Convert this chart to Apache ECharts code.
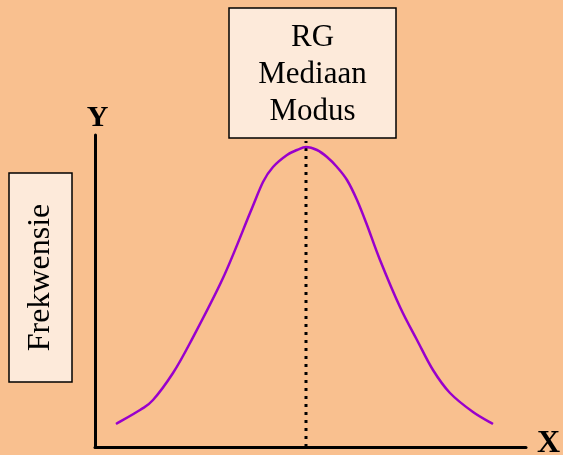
<!DOCTYPE html>
<html><head><meta charset="utf-8">
<script src="https://cdn.jsdelivr.net/npm/echarts@6/dist/echarts.min.js"></script>
<style>html,body{margin:0;padding:0;background:#F9C08F}#c{width:563px;height:455px}</style>
</head><body><div id="c"></div>
<script>
// curve sample points (x in axis units, y = frequency)
const curveX = [21, 45, 58, 78, 95, 128, 155, 168, 178, 192, 202, 211, 222, 232, 242, 252, 262, 272, 285, 305, 322, 338, 355, 378, 398];
const curveY = [23, 37, 47, 74, 104, 169, 234, 265, 280, 292, 297, 300, 297, 290, 280, 267, 247, 222, 187, 140, 107, 77, 54, 35, 23];
const modeX = 211;
const modeLineTop = 306;
const boxLines = ['RG', 'Mediaan', 'Modus'];
const yTitle = 'Frekwensie';
const axisNames = ['X', 'Y'];

const chart = echarts.init(document.getElementById('c'));
const serif = '"Liberation Serif", "DejaVu Serif", serif';
const pts = curveX.map((x, i) => [x, curveY[i]]);

function renderCurve(params, api) {
  if (params.dataIndex !== 0) return null;
  const p = pts.map(d => api.coord(d));
  let d = 'M' + p[0][0] + ' ' + p[0][1];
  for (let i = 0; i < p.length - 1; i++) {
    const p0 = p[Math.max(i - 1, 0)], p1 = p[i], p2 = p[i + 1], p3 = p[Math.min(i + 2, p.length - 1)];
    const c1x = p1[0] + (p2[0] - p0[0]) / 6, c1y = p1[1] + (p2[1] - p0[1]) / 6;
    const c2x = p2[0] - (p3[0] - p1[0]) / 6, c2y = p2[1] - (p3[1] - p1[1]) / 6;
    d += ' C' + c1x + ' ' + c1y + ' ' + c2x + ' ' + c2y + ' ' + p2[0] + ' ' + p2[1];
  }
  return { type: 'path', shape: { pathData: d }, style: { fill: 'none', stroke: '#9900CC', lineWidth: 2.5 } };
}

chart.setOption({
  backgroundColor: '#F9C08F',
  animation: false,
  grid: { left: 95, right: 37, top: 135, bottom: 8 },
  xAxis: { type: 'value', min: 0, max: 431, axisLine: { show: true, onZero: false, lineStyle: { color: '#000', width: 3 } },
           axisTick: { show: false }, axisLabel: { show: false }, splitLine: { show: false } },
  yAxis: { type: 'value', min: 0, max: 312, axisLine: { show: true, onZero: false, lineStyle: { color: '#000', width: 3 } },
           axisTick: { show: false }, axisLabel: { show: false }, splitLine: { show: false } },
  series: [
    { type: 'line', symbol: 'none', silent: true, z: 1,
      data: [[modeX, 0], [modeX, modeLineTop]],
      lineStyle: { color: '#000', width: 3, type: [3, 5] } },
    { type: 'custom', renderItem: renderCurve, data: pts, z: 2, silent: true }
  ],
  graphic: [
    { type: 'rect', shape: { x: 229, y: 8, width: 167, height: 130 }, style: { fill: '#FDEADA', stroke: '#000', lineWidth: 1.5 } },
    { type: 'text', x: 312.5, y: 75, style: { text: boxLines.join('\n'), font: '31px ' + serif, lineHeight: 37, fill: '#000', align: 'center', verticalAlign: 'middle' } },
    { type: 'rect', shape: { x: 9, y: 173, width: 63, height: 209 }, style: { fill: '#FDEADA', stroke: '#000', lineWidth: 1.5 } },
    { type: 'text', x: 40.5, y: 277.5, rotation: Math.PI / 2, style: { text: yTitle, font: '32px ' + serif, fill: '#000', align: 'center', verticalAlign: 'middle' } },
    { type: 'text', x: 97.5, y: 118, style: { text: axisNames[1], font: 'bold 30px ' + serif, fill: '#000', align: 'center', verticalAlign: 'middle' } },
    { type: 'text', x: 537, y: 444, style: { text: axisNames[0], font: 'bold 32px ' + serif, fill: '#000', align: 'left', verticalAlign: 'middle' } }
  ]
});
</script></body></html>
